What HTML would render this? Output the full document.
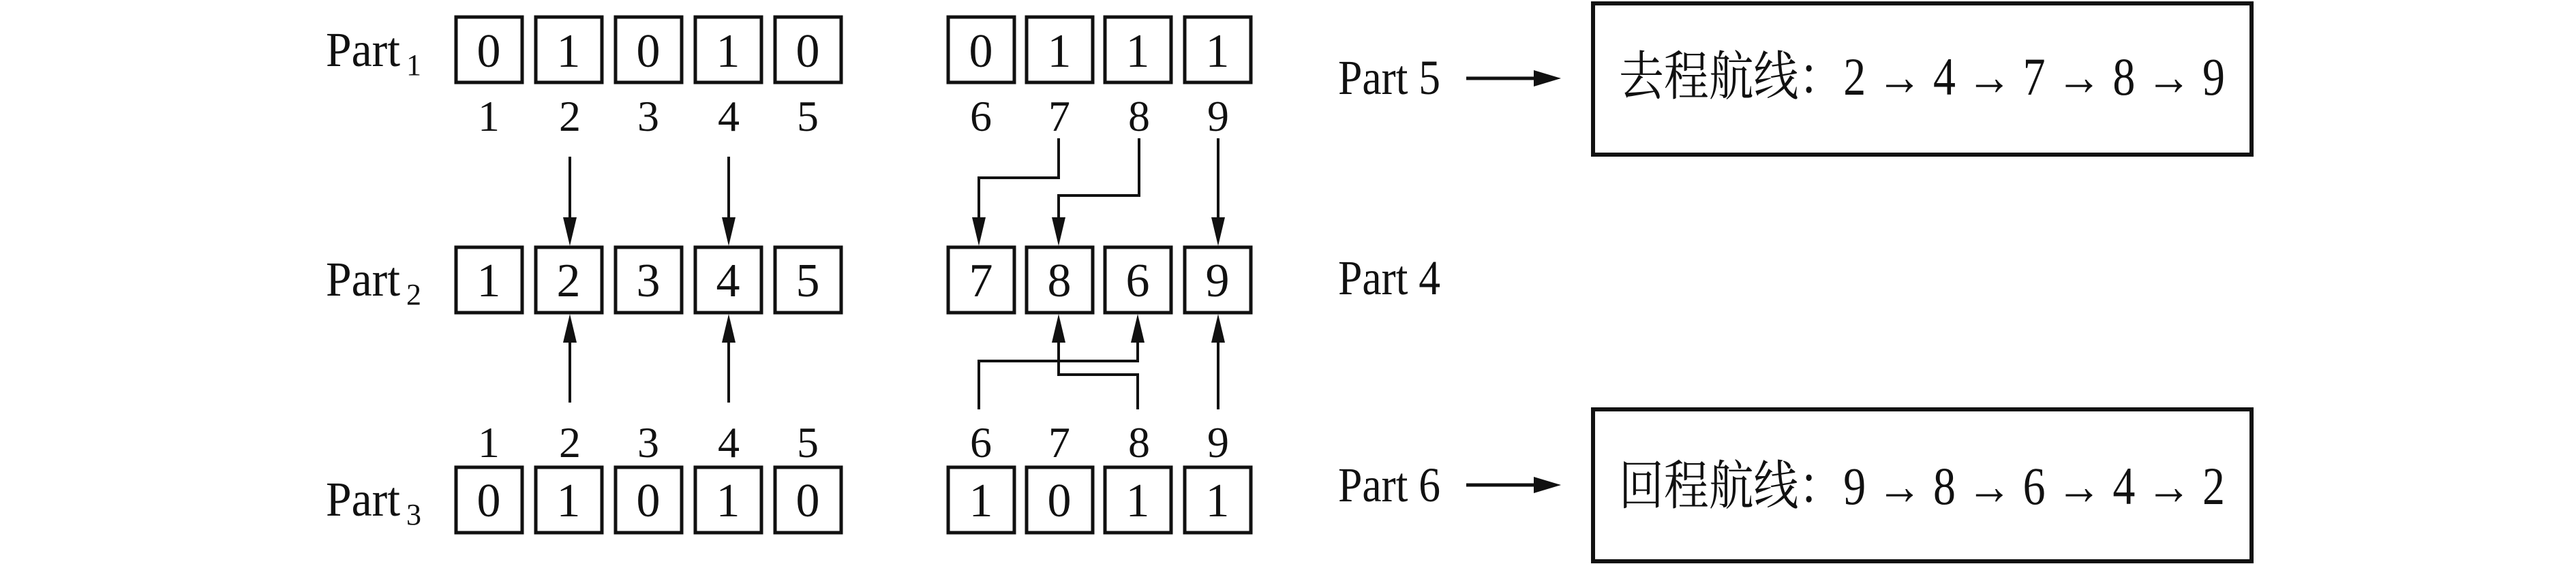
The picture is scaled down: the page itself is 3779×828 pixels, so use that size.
<!DOCTYPE html>
<html><head><meta charset="utf-8"><style>html,body{margin:0;padding:0;background:#fff}svg{display:block}</style></head>
<body>
<svg width="3779" height="828" viewBox="0 0 3779 828" xmlns="http://www.w3.org/2000/svg" font-family="Liberation Serif, Noto Serif CJK SC, serif" fill="#111">
<g fill="none" stroke="#111" stroke-width="5">
<!-- row1 -->
<rect x="669" y="25" width="97" height="96"/><rect x="786" y="25" width="97" height="96"/><rect x="903" y="25" width="97" height="96"/><rect x="1020" y="25" width="97" height="96"/><rect x="1137" y="25" width="97" height="96"/>
<rect x="1391" y="25" width="97" height="96"/><rect x="1506" y="25" width="97" height="96"/><rect x="1621" y="25" width="97" height="96"/><rect x="1738" y="25" width="97" height="96"/>
<!-- row2 -->
<rect x="669" y="363" width="97" height="96"/><rect x="786" y="363" width="97" height="96"/><rect x="903" y="363" width="97" height="96"/><rect x="1020" y="363" width="97" height="96"/><rect x="1137" y="363" width="97" height="96"/>
<rect x="1391" y="363" width="97" height="96"/><rect x="1506" y="363" width="97" height="96"/><rect x="1621" y="363" width="97" height="96"/><rect x="1738" y="363" width="97" height="96"/>
<!-- row3 -->
<rect x="669" y="686" width="97" height="96"/><rect x="786" y="686" width="97" height="96"/><rect x="903" y="686" width="97" height="96"/><rect x="1020" y="686" width="97" height="96"/><rect x="1137" y="686" width="97" height="96"/>
<rect x="1391" y="686" width="97" height="96"/><rect x="1506" y="686" width="97" height="96"/><rect x="1621" y="686" width="97" height="96"/><rect x="1738" y="686" width="97" height="96"/>
<!-- result boxes -->
<rect x="2337" y="5" width="966" height="222" stroke-width="6"/>
<rect x="2337" y="601" width="966" height="223" stroke-width="6"/>
</g>
<g fill="none" stroke="#111" stroke-width="4">
<line x1="836" y1="230" x2="836" y2="325"/>
<line x1="1069" y1="230" x2="1069" y2="325"/>
<line x1="836" y1="591" x2="836" y2="500"/>
<line x1="1069" y1="591" x2="1069" y2="500"/>
<polyline points="1553,203 1553,261 1436,261 1436,325"/>
<polyline points="1671,203 1671,287 1553,287 1553,325"/>
<line x1="1787" y1="203" x2="1787" y2="325"/>
<polyline points="1436,601 1436,530 1669,530 1669,500"/>
<polyline points="1669,601 1669,550 1553,550 1553,500"/>
<line x1="1787" y1="601" x2="1787" y2="500"/>
<line x1="2151" y1="115" x2="2260" y2="115" stroke-width="5"/>
<line x1="2151" y1="712" x2="2260" y2="712" stroke-width="5"/>
</g>
<g stroke="none">
<polygon points="826,319 846,319 836,361"/>
<polygon points="1059,319 1079,319 1069,361"/>
<polygon points="1426,319 1446,319 1436,361"/>
<polygon points="1543,319 1563,319 1553,361"/>
<polygon points="1777,319 1797,319 1787,361"/>
<polygon points="826,503 846,503 836,461"/>
<polygon points="1059,503 1079,503 1069,461"/>
<polygon points="1543,503 1563,503 1553,461"/>
<polygon points="1659,503 1679,503 1669,461"/>
<polygon points="1777,503 1797,503 1787,461"/>
<polygon points="2250,103 2290,115 2250,127"/>
<polygon points="2250,700 2290,712 2250,724"/>
</g>
<g font-size="70" text-anchor="middle">
<text x="717" y="98">0</text><text x="834" y="98">1</text><text x="951" y="98">0</text><text x="1068" y="98">1</text><text x="1185" y="98">0</text>
<text x="1439" y="98">0</text><text x="1554" y="98">1</text><text x="1669" y="98">1</text><text x="1786" y="98">1</text>
<text x="717" y="435">1</text><text x="834" y="435">2</text><text x="951" y="435">3</text><text x="1068" y="435">4</text><text x="1185" y="435">5</text>
<text x="1439" y="435">7</text><text x="1554" y="435">8</text><text x="1669" y="435">6</text><text x="1786" y="435">9</text>
<text x="717" y="758">0</text><text x="834" y="758">1</text><text x="951" y="758">0</text><text x="1068" y="758">1</text><text x="1185" y="758">0</text>
<text x="1439" y="758">1</text><text x="1554" y="758">0</text><text x="1669" y="758">1</text><text x="1786" y="758">1</text>
</g>
<g font-size="64" text-anchor="middle">
<text x="717" y="192">1</text><text x="836" y="192">2</text><text x="951" y="192">3</text><text x="1069" y="192">4</text><text x="1185" y="192">5</text>
<text x="1439" y="192">6</text><text x="1554" y="192">7</text><text x="1671" y="192">8</text><text x="1787" y="192">9</text>
<text x="717" y="671">1</text><text x="836" y="671">2</text><text x="951" y="671">3</text><text x="1069" y="671">4</text><text x="1185" y="671">5</text>
<text x="1439" y="671">6</text><text x="1554" y="671">7</text><text x="1671" y="671">8</text><text x="1787" y="671">9</text>
</g>
<g font-size="72">
<text x="478" y="97" textLength="109" lengthAdjust="spacingAndGlyphs">Part</text>
<text x="478" y="434" textLength="109" lengthAdjust="spacingAndGlyphs">Part</text>
<text x="478" y="757" textLength="109" lengthAdjust="spacingAndGlyphs">Part</text>
<text x="1963" y="138" textLength="150" lengthAdjust="spacingAndGlyphs">Part 5</text>
<text x="1963" y="432" textLength="150" lengthAdjust="spacingAndGlyphs">Part 4</text>
<text x="1963" y="736" textLength="150" lengthAdjust="spacingAndGlyphs">Part 6</text>
</g>
<g font-size="44">
<text x="596" y="110">1</text><text x="596" y="447">2</text><text x="596" y="770">3</text>
</g>
<g font-size="78">
<text x="2375" y="139" textLength="889" lengthAdjust="spacingAndGlyphs">去程航线：2 → 4 → 7 → 8 → 9</text>
<text x="2375" y="740" textLength="889" lengthAdjust="spacingAndGlyphs">回程航线：9 → 8 → 6 → 4 → 2</text>
</g>
</svg>
</body></html>
